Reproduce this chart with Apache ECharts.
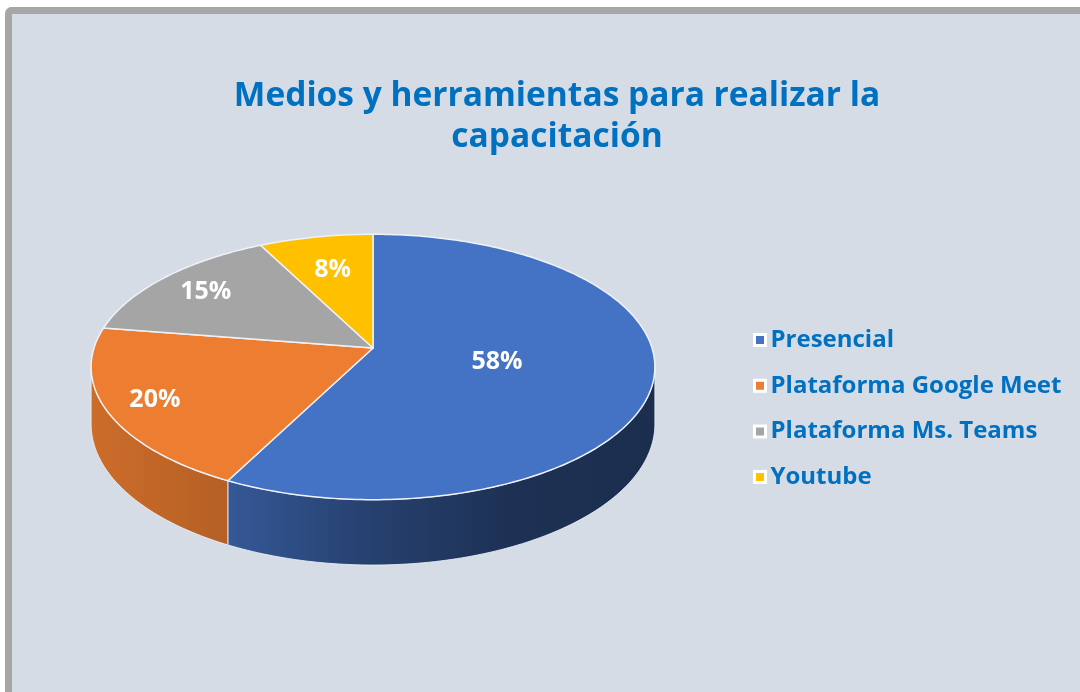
<!DOCTYPE html>
<html>
<head>
<meta charset="utf-8">
<script src="https://cdn.jsdelivr.net/npm/echarts@6/dist/echarts.min.js"></script>
<style>
html,body{margin:0;padding:0;background:#fff;overflow:hidden;}
#frame{position:absolute;left:5px;top:7px;width:1100px;height:720px;border-top:7px solid #a6a6a6;border-left:7px solid #a6a6a6;border-top-left-radius:7px;background:#d6dce5;}
#chart{position:absolute;left:0;top:0;width:1080px;height:692px;}
</style>
</head>
<body>
<div id="frame"></div>
<div id="chart"></div>
<script>
// datos
var categories = ['Presencial', 'Plataforma Google Meet', 'Plataforma Ms. Teams', 'Youtube'];
var values = [57.5, 20, 15, 7.5];
var colors = ['#4472c4', '#ed7d31', '#a5a5a5', '#ffc000'];

// geometria del pastel 3D (perspectiva simple)
var cx = 373, cy = 348, rx = 279, ry = 130, persp = 0.143, depth = 56;
var labelRadius = [0.45, 0.83, 0.79, 0.68];
var tR = Math.acos(-persp), tL = 2 * Math.PI - tR;

function proj(t, r) {
    var u = Math.sin(t) * r, v = -Math.cos(t) * r;
    var k = 1 / (1 - persp * v);
    return [cx + rx * u * k, cy + ry * v * k];
}
function projBottom(t) {
    var p = proj(t, 1);
    var k = 1 / (1 + persp * Math.cos(t));
    return [p[0], p[1] + depth * k];
}
function shade(hex, f) {
    var n = parseInt(hex.slice(1), 16);
    var r = Math.round(((n >> 16) & 255) * f), g = Math.round(((n >> 8) & 255) * f), b = Math.round((n & 255) * f);
    return 'rgb(' + r + ',' + g + ',' + b + ')';
}

var total = values.reduce(function (a, b) { return a + b; }, 0);

function makeRender(i) {
    return function (params, api) {
        var start = 0;
        for (var j = 0; j < i; j++) start += values[j];
        var t0 = start / total * 2 * Math.PI;
        var t1 = (start + values[i]) / total * 2 * Math.PI;
        var color = colors[i];
        var children = [];
        var step = Math.PI / 180;

        // pared lateral
        var a = Math.max(t0, tR), b = Math.min(t1, tL);
        if (b > a) {
            var n = Math.max(2, Math.ceil((b - a) / step));
            var pts = [], k, t;
            for (k = 0; k <= n; k++) { t = a + (b - a) * k / n; pts.push(proj(t, 1)); }
            for (k = n; k >= 0; k--) { t = a + (b - a) * k / n; pts.push(projBottom(t)); }
            children.push({
                type: 'polygon',
                shape: { points: pts },
                style: {
                    fill: {
                        type: 'linear', x: cx - rx, y: 0, x2: cx + rx, y2: 0, global: true,
                        colorStops: [
                            { offset: 0, color: shade(color, 0.86) },
                            { offset: 0.25, color: shade(color, 0.76) },
                            { offset: 0.5, color: shade(color, 0.56) },
                            { offset: 0.75, color: shade(color, 0.43) },
                            { offset: 1, color: shade(color, 0.4) }
                        ]
                    },
                    stroke: 'rgba(235,240,248,0.85)',
                    lineWidth: 1
                }
            });
        }

        // cara superior
        var m = Math.max(2, Math.ceil((t1 - t0) / step));
        var tp = [[cx, cy]];
        for (var q = 0; q <= m; q++) tp.push(proj(t0 + (t1 - t0) * q / m, 1));
        children.push({
            type: 'polygon',
            shape: { points: tp },
            style: { fill: color, stroke: '#eef2f8', lineWidth: 1.5, lineJoin: 'round' }
        });

        // etiqueta
        var lp = proj((t0 + t1) / 2, labelRadius[i]);
        children.push({
            type: 'text',
            x: lp[0], y: lp[1],
            style: {
                text: Math.round(values[i] * 100 / total) + '%',
                fill: '#fff', fontSize: 25, fontWeight: 'bold', fontFamily: 'Open Sans',
                align: 'center', verticalAlign: 'middle'
            }
        });
        return { type: 'group', children: children };
    };
}

var chart = echarts.init(document.getElementById('chart'));
var option = {
    backgroundColor: 'transparent',
    color: colors,
    animation: false,
    title: {
        text: 'Medios y herramientas para realizar la\ncapacitación',
        left: 552,
        textAlign: 'center',
        top: 71,
        textStyle: { color: '#0070c0', fontSize: 33.5, fontWeight: 'bold', fontFamily: 'Open Sans', lineHeight: 41 }
    },
    legend: {
        orient: 'vertical',
        left: 748,
        top: 323,
        data: categories,
        icon: 'rect',
        itemWidth: 11,
        itemHeight: 11,
        itemGap: 21.7,
        selectedMode: false,
        itemStyle: { borderColor: '#fff', borderWidth: 3 },
        textStyle: { color: '#0070c0', fontSize: 24, fontWeight: 'bold', fontFamily: 'Open Sans', lineHeight: 24 }
    },
    series: categories.map(function (name, i) {
        return {
            type: 'custom',
            name: name,
            coordinateSystem: 'none',
            data: [[values[i]]],
            itemStyle: { color: colors[i] },
            renderItem: makeRender(i)
        };
    })
};
chart.setOption(option);
window.onresize = function () { chart.resize(); };
</script>
</body>
</html>
